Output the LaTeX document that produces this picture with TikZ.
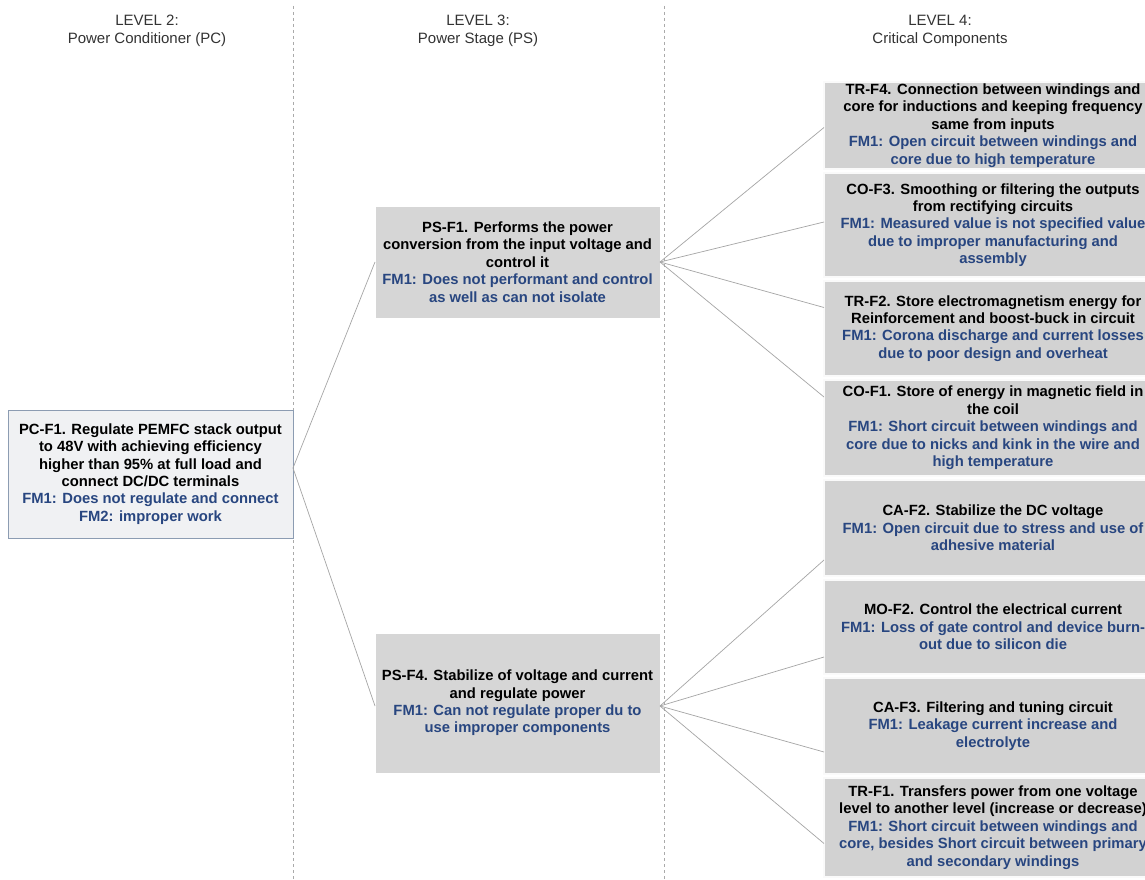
\documentclass[tikz,border=0pt]{standalone}
\usepackage{fontspec}
\setmainfont{Liberation Sans}
\usetikzlibrary{calc}
\definecolor{fmblue}{RGB}{40,70,128}
\definecolor{boxgray}{RGB}{210,210,210}
\definecolor{psgray}{RGB}{214,214,214}
\definecolor{lightfill}{RGB}{240,241,243}
\definecolor{lightedge}{RGB}{140,156,178}
\definecolor{sepgray}{RGB}{170,170,170}
\definecolor{conngray}{RGB}{165,165,165}
\newcommand{\fmline}[1]{{\color{fmblue}#1}}
\begin{document}
\begin{tikzpicture}[x=1pt,y=-1pt,
  hdr/.style={font=\fontsize{15}{17.5}\selectfont, text=black!80, align=center, inner sep=0},
  sepline/.style={draw=sepgray, line width=0.8pt, dash pattern=on 3pt off 3pt},
  basebox/.style={rectangle, anchor=north west, inner sep=0, outer sep=0, align=center,
    font=\bfseries\fontsize{14.8}{17.4}\selectfont},
  lbox/.style={basebox, draw=lightedge, fill=lightfill, line width=0.8pt},
  pbox/.style={basebox, fill=psgray, draw=white, line width=1pt},
  rbox/.style={basebox, fill=boxgray, draw=white!90!boxgray, line width=1.2pt, minimum width=338pt},
  conn/.style={draw=conngray, line width=0.7pt}
]
\useasboundingbox (0,0) rectangle (1145,880);
\fill[white] (0,0) rectangle (1145,880);

% separators
\draw[sepline] (293,6) -- (293,880);
\draw[sepline] (664,6) -- (664,880);

% headers
\node[hdr] (h2) at (147,31) {LEVEL 2:\\Power Conditioner (PC)};
\node[hdr] (h3) at (478,31) {LEVEL 3:\\Power Stage (PS)};
\node[hdr] (h4) at (940,31) {LEVEL 4:\\Critical Components};

% level 2
\node[lbox, minimum width=285pt, minimum height=128pt] (pc) at (8,410)
 {PC-F1. Regulate PEMFC stack output\\to 48V with achieving efficiency\\higher than 95\% at full load and\\connect DC/DC terminals\\\fmline{FM1: Does not regulate and connect}\\\fmline{FM2: improper work}};

% level 3
\node[pbox, minimum width=285pt, minimum height=112pt] (ps1) at (375,206)
 {PS-F1. Performs the power\\conversion from the input voltage and\\control it\\\fmline{FM1: Does not performant and control}\\\fmline{as well as can not isolate}};
\node[pbox, minimum width=285pt, minimum height=140pt] (ps4) at (375,633)
 {PS-F4. Stabilize of voltage and current\\and regulate power\\\fmline{FM1: Can not regulate proper du to}\\\fmline{use improper components}};

% level 4
\node[rbox, minimum height=87pt] (trf4) at (824,82)
 {TR-F4. Connection between windings and\\core for inductions and keeping frequency\\same from inputs\\\fmline{FM1: Open circuit between windings and}\\\fmline{core due to high temperature}};
\node[rbox, minimum height=104pt] (cof3) at (824,173)
 {CO-F3. Smoothing or filtering the outputs\\from rectifying circuits\\\fmline{FM1: Measured value is not specified value}\\\fmline{due to improper manufacturing and}\\\fmline{assembly}};
\node[rbox, minimum height=95pt] (trf2) at (824,281)
 {TR-F2. Store electromagnetism energy for\\Reinforcement and boost-buck in circuit\\\fmline{FM1: Corona discharge and current losses}\\\fmline{due to poor design and overheat}};
\node[rbox, minimum height=96pt] (cof1) at (824,380)
 {CO-F1. Store of energy in magnetic field in\\the coil\\\fmline{FM1: Short circuit between windings and}\\\fmline{core due to nicks and kink in the wire and}\\\fmline{high temperature}};
\node[rbox, minimum height=96pt] (caf2) at (824,480)
 {CA-F2. Stabilize the DC voltage\\\fmline{FM1: Open circuit due to stress and use of}\\\fmline{adhesive material}};
\node[rbox, minimum height=94pt] (mof2) at (824,580)
 {MO-F2. Control the electrical current\\\fmline{FM1: Loss of gate control and device burn-}\\\fmline{out due to silicon die}};
\node[rbox, minimum height=96pt] (caf3) at (824,678)
 {CA-F3. Filtering and tuning circuit\\\fmline{FM1: Leakage current increase and}\\\fmline{electrolyte}};
\node[rbox, minimum height=99pt] (trf1) at (824,778)
 {TR-F1. Transfers power from one voltage\\level to another level (increase or decrease)\\\fmline{FM1: Short circuit between windings and}\\\fmline{core, besides Short circuit between primary}\\\fmline{and secondary windings}};

% connectors
\draw[conn] ([yshift=6pt]pc.east) -- (ps1.west);
\draw[conn] ([yshift=6pt]pc.east) -- ([yshift=-3pt]ps4.west);
\draw[conn] (ps1.east) -- ([yshift=-2pt]trf4.west);
\draw[conn] (ps1.east) -- ([yshift=3pt]cof3.west);
\draw[conn] (ps1.east) -- ([yshift=21pt]trf2.west);
\draw[conn] (ps1.east) -- ([yshift=31pt]cof1.west);
\draw[conn] ([yshift=-3pt]ps4.east) -- ([yshift=-32pt]caf2.west);
\draw[conn] ([yshift=-3pt]ps4.east) -- ([yshift=-30pt]mof2.west);
\draw[conn] ([yshift=-3pt]ps4.east) -- ([yshift=-26pt]caf3.west);
\draw[conn] ([yshift=-3pt]ps4.east) -- ([yshift=-16pt]trf1.west);
\end{tikzpicture}
\end{document}
